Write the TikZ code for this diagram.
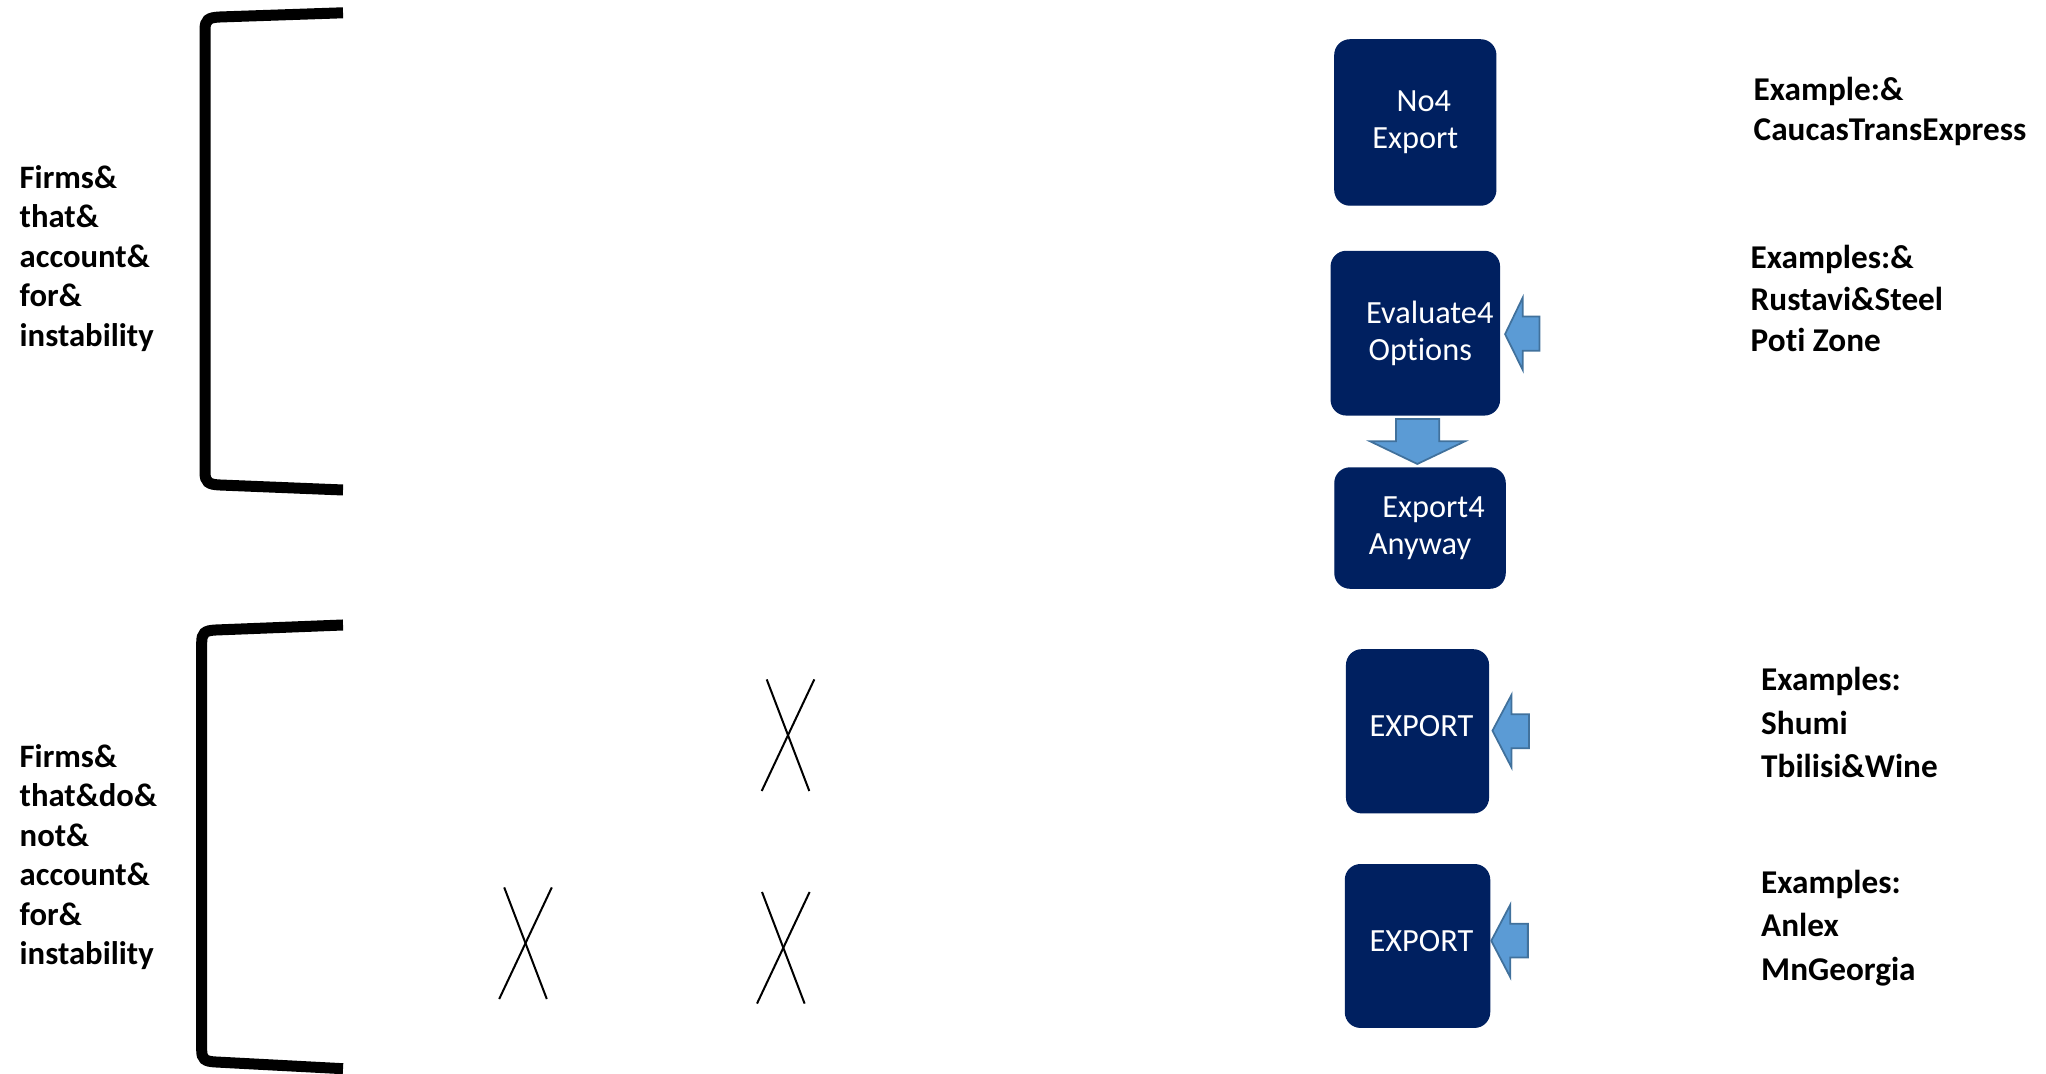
\documentclass[tikz,border=0pt]{standalone}
\usepackage{fontspec}
\setmainfont{Carlito}[Ligatures=NoCommon]
\usetikzlibrary{positioning}
\definecolor{navybox}{HTML}{002060}
\definecolor{arrowfill}{HTML}{5B9BD5}
\definecolor{arrowedge}{HTML}{41719C}

\begin{document}
\begin{tikzpicture}[x=0.01cm,y=-0.01cm,
        box/.style={fill=navybox,draw=navybox,rounded corners=0.15cm,align=center,text=white,inner sep=0pt,font=\fontsize{9.2}{10.6}\selectfont},
        blockarrow/.style={fill=arrowfill,draw=arrowedge,line width=0.5pt},
        bracket/.style={line width=0.11cm},
        cross/.style={line width=0.02cm},
        sidetext/.style={anchor=base west,align=left,inner sep=0pt,font=\bfseries\fontsize{9.3}{11.25}\selectfont},
        examples/.style={anchor=base west,align=left,inner sep=0pt}]
    \useasboundingbox (0,0) rectangle (2046,1074);

    % left side: groups of firms (anchored at the last line)
    \node[sidetext] (firmsa) at (19,346.5) {Firms\&\\that\&\\account\&\\for\&\\instability};
    \node[sidetext] (firmsb) at (19,965) {Firms\&\\that\&do\&\\not\&\\account\&\\for\&\\instability};
    \draw[bracket] (343,12.8) -- (220,17) .. controls (208,17.5) and (205,20) .. (205,30) -- (205,472) .. controls (205,482) and (208,484.5) .. (220,485) -- (343,490);
    \draw[bracket] (343,625) -- (216,630) .. controls (204.5,630.5) and (201.7,633) .. (201.7,643) -- (201.7,1050) .. controls (201.7,1059) and (204.5,1061.5) .. (216,1062) -- (343,1068.7);

    % crossed out steps
    \foreach \cx/\cy in {788/735.2, 525.5/943.2, 783.3/947.8} {
        \draw[cross] (\cx-21.3,\cy-55.8) -- (\cx+21.3,\cy+55.8);
        \draw[cross] (\cx+26.3,\cy-55.8) -- (\cx-26.3,\cy+55.8);
    }

    % decision boxes
    \node[box,minimum width=1.607cm,minimum height=1.65cm] (noexp) at (1415.3,122.5) {\hspace*{0.17cm}No4\\Export};
    \node[box,minimum width=1.68cm,minimum height=1.633cm,below=0.45cm of noexp] (eval) {\hspace*{0.29cm}Evaluate4\\\hspace*{0.1cm}Options};
    \node[box,minimum width=1.7cm,minimum height=1.2cm,below=0.517cm of eval,xshift=0.047cm] (anyway) {\hspace*{0.27cm}Export4\\Anyway};
    \node[box,minimum width=1.416cm,minimum height=1.627cm,text depth=0.1cm] (expa) at (1417.5,731.3) {\hspace*{0.08cm}EXPORT};
    \node[box,minimum width=1.44cm,minimum height=1.624cm,text depth=0.1cm,below=0.506cm of expa] (expb) {\hspace*{0.08cm}EXPORT};

    % block arrows
    \draw[blockarrow] ([shift={(5,1)}]eval.east) -- ++(17.6,-36.4) -- ++(0,18.7) -- ++(16.8,0) -- ++(0,34.3) -- ++(-16.8,0) -- ++(0,19) -- cycle;
    \draw[blockarrow] ([shift={(-19.3,3.4)}]eval.south) -- ++(43.3,0) -- ++(0,22.3) -- ++(25.7,0) -- ++(-47.7,22.7) -- ++(-47.3,-22.7) -- ++(26,0) -- cycle;
    \draw[blockarrow] ([shift={(3.4,-0.6)}]expa.east) -- ++(19,-35.7) -- ++(0,19.3) -- ++(17.6,0) -- ++(0,34) -- ++(-17.6,0) -- ++(0,19) -- cycle;
    \draw[blockarrow] ([shift={(1,-5.2)}]expb.east) -- ++(19,-36) -- ++(0,19) -- ++(17.6,0) -- ++(0,33.7) -- ++(-17.6,0) -- ++(0,19.7) -- cycle;

    % examples (anchored at the last line)
    \node[examples,font=\bfseries\fontsize{9.45}{11.5}\selectfont] (exa) at (1753,141) {Example:\&\\CaucasTransExpress};
    \node[examples,font=\bfseries\fontsize{9.45}{11.9}\selectfont] (exb) at (1750,352) {Examples:\&\\Rustavi\&Steel\\Poti Zone};
    \node[examples,font=\bfseries\fontsize{9.45}{12.4}\selectfont] (exc) at (1760.5,778) {Examples:\\Shumi\\Tbilisi\&Wine};
    \node[examples,font=\bfseries\fontsize{9.45}{12.4}\selectfont] (exd) at (1760.5,980.5) {Examples:\\Anlex\\MnGeorgia};
\end{tikzpicture}
\end{document}
